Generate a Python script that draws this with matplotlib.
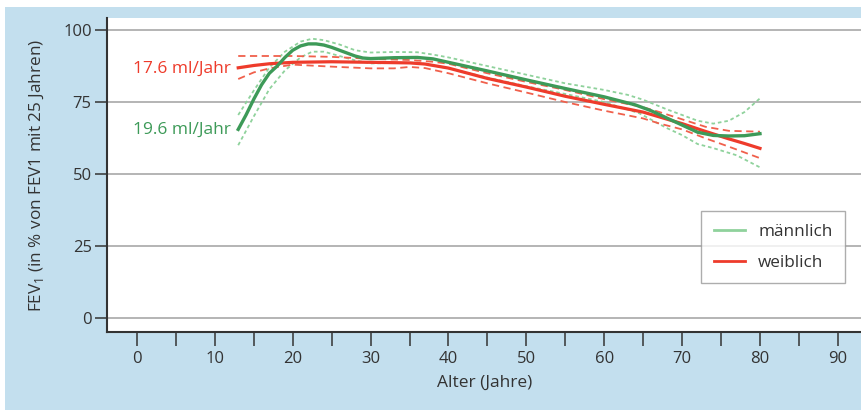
import matplotlib.pyplot as plt
from matplotlib.patches import Rectangle
from matplotlib.lines import Line2D

plt.rcParams['font.family'] = ['Open Sans', 'DejaVu Sans']
plt.rcParams['mathtext.fontset'] = 'custom'
plt.rcParams['mathtext.rm'] = 'Open Sans'

# male (männlich) mean and confidence band
m_age = [13, 14, 15, 16, 17, 18, 19, 20, 21, 22, 23, 24, 25, 26, 27, 28, 29, 30, 33, 36, 38, 40,
         45, 50, 55, 60, 64, 66, 68, 70, 72, 74, 76, 78, 80]
m_val = [65.5, 70.5, 76, 81, 85, 87.5, 90.5, 93, 94.5, 95.2, 95.2, 94.8, 94, 93, 92, 91, 90.3, 90.1,
         90.4, 90.5, 90, 88.8, 85.8, 82.7, 79.7, 76.8, 74, 72, 69.5, 67, 64.5, 63.4, 63.2, 63.3, 64]
mu_age = [13, 15, 17, 19, 21, 22.5, 24, 26, 28, 30, 33, 36, 38, 40, 45, 50, 55, 60, 63, 65, 68, 70,
          72, 74, 76, 78, 80]
mu_val = [70.5, 79, 87, 92.5, 96, 97, 96.5, 95, 93, 92.2, 92.4, 92.3, 91.5, 90.5, 87.5, 84.5, 81.5,
          79.2, 77.5, 75.8, 72.5, 70.5, 68.5, 67.5, 68.5, 71.5, 76.3]
ml_age = [13, 15, 17, 19, 21, 22.5, 24, 26, 28, 30, 33, 36, 40, 45, 50, 55, 60, 64.5, 68, 70, 72, 74,
          77, 80]
ml_val = [60, 70, 79.5, 86, 90.5, 92.5, 92.5, 91, 89.5, 88.4, 88.6, 88.7, 86.7, 83.5, 80.5, 77.8,
          75, 71.1, 66, 63.5, 60.4, 59, 56.5, 52.3]

# female (weiblich) mean and confidence band
w_age = [13, 15, 17, 20, 25, 30, 35, 37, 40, 45, 50, 55, 60, 65, 70, 73, 76, 78, 80]
w_val = [86.9, 87.7, 88.3, 88.8, 89, 88.8, 88.6, 88.2, 86.8, 83.2, 80.2, 77, 74.2, 71.5, 67.5, 64.8,
         62.2, 60.6, 58.9]
wu_age = [13, 20, 25, 30, 35, 38, 40, 45, 50, 55, 60, 65, 67, 70, 73, 76, 80]
wu_val = [91, 91, 90.7, 90, 89.6, 89, 88.3, 85, 82, 79.2, 76, 73.2, 71.6, 69, 66.4, 65, 64.7]
wl_age = [13, 15, 17, 20, 25, 30, 33, 35, 37, 40, 45, 50, 55, 60, 65, 67, 70, 73, 76, 78, 80]
wl_val = [83, 85.3, 86.7, 88, 87.3, 86.7, 86.7, 87.2, 86.8, 85, 81.5, 78.3, 75, 72, 69.3, 67.6, 65.5,
          62.4, 59.5, 57.5, 55.5]

green = '#3d9a58'
green_light = '#8fd29c'
red = '#ee3b2b'
red_dash = '#f0604c'

fig = plt.figure(figsize=(8.62, 4.12), dpi=100)
fig.patches.append(Rectangle((5 / 862, 2 / 412), 857 / 862, 403 / 412, transform=fig.transFigure,
                             facecolor='#c3dfee', edgecolor='none', zorder=-10))
ax = fig.add_axes([107 / 862, 1 - 332 / 412, 755 / 862, 314 / 412])
ax.set_facecolor('white')

ax.plot(mu_age, mu_val, color=green_light, lw=1.3, ls=(0, (2, 1.6)))
ax.plot(ml_age, ml_val, color=green_light, lw=1.3, ls=(0, (2, 1.6)))
ax.plot(wu_age, wu_val, color=red_dash, lw=1.3, ls=(0, (4, 2.5)))
ax.plot(wl_age, wl_val, color=red_dash, lw=1.3, ls=(0, (4, 2.5)))
ax.plot(w_age, w_val, color=red, lw=2.3)
ax.plot(m_age, m_val, color=green, lw=2.4)

ax.set_xlim(-3.85, 93.1)
ax.set_ylim(-4.9, 104.2)
ax.set_xticks(range(0, 95, 5))
ax.set_xticklabels([str(v) if v % 10 == 0 else '' for v in range(0, 95, 5)])
ax.set_yticks([0, 25, 50, 75, 100])
ax.grid(axis='y', color='#a8a8a8', lw=1.2)
ax.set_axisbelow(True)
for s in ['top', 'right']:
    ax.spines[s].set_visible(False)
for s in ['left', 'bottom']:
    ax.spines[s].set_color('#333333')
    ax.spines[s].set_linewidth(1.5)
ax.tick_params(axis='x', direction='out', length=10, width=1.1, color='#333333',
               labelsize=12, labelcolor='#333333', pad=4)
ax.tick_params(axis='y', direction='out', length=9, width=1.1, color='#333333',
               labelsize=12, labelcolor='#333333', pad=2)

ax.set_xlabel('Alter (Jahre)', fontsize=12.5, color='#333333', labelpad=5)
ax.set_ylabel('FEV$_1$ (in % von FEV1 mit 25 Jahren)', fontsize=12.3, color='#333333', labelpad=12)

ax.text(12, 86.6, '17.6 ml/Jahr', color=red, fontsize=12.5, ha='right', va='center')
ax.text(12, 65.2, '19.6 ml/Jahr', color=green, fontsize=12.5, ha='right', va='center')

handles = [Line2D([], [], color=green_light, lw=2), Line2D([], [], color=red, lw=2)]
leg = ax.legend(handles, ['männlich', 'weiblich'], loc='lower right', bbox_to_anchor=(0.978, 0.155),
                fontsize=12.3, frameon=True, fancybox=False, handlelength=1.8, labelspacing=0.85,
                borderpad=0.75, handletextpad=0.8, borderaxespad=0)
leg.get_frame().set_edgecolor('#999999')
leg.get_frame().set_linewidth(1)
for t in leg.get_texts():
    t.set_color('#333333')

fig.savefig('out.png', dpi=100)
